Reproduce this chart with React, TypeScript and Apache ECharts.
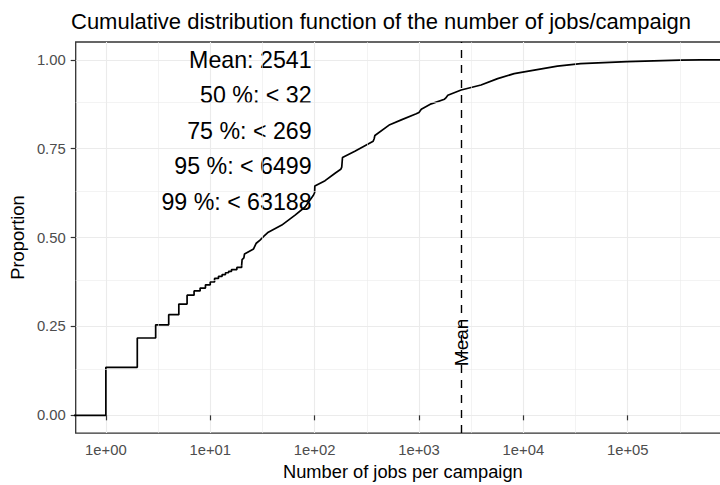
import React, { useEffect, useRef } from "react";
import * as echarts from "echarts";

const TITLE = "Cumulative distribution function of the number of jobs/campaign";
const X_NAME = "Number of jobs per campaign";
const Y_NAME = "Proportion";

const X_MIN = 0.514;
const X_MAX = 955000;
const Y_MIN = -0.05;
const Y_MAX = 1.05;

const X_TICKS = [1, 10, 100, 1000, 10000, 100000];
const X_MINOR = [3.162, 31.62, 316.2, 3162, 31623, 316228];
const Y_TICKS = [0, 0.25, 0.5, 0.75, 1];
const Y_MINOR = [0.125, 0.375, 0.625, 0.875];

// discrete (small counts) part of the ECDF, drawn as steps
const stepJobs = [0.2, 1, 2, 3, 4, 5, 6, 7, 8, 9, 10, 11, 12, 13, 14, 15, 16, 18, 20];
const stepProp = [0, 0.135, 0.2175, 0.2545, 0.283, 0.313, 0.338, 0.35, 0.358, 0.367, 0.375, 0.385, 0.391, 0.396, 0.401, 0.405, 0.41, 0.416, 0.422];

// dense (large counts) part of the ECDF
const contJobs = [20, 20.2, 21, 21.3, 26, 27.6, 30, 32.5, 36, 48.5, 65, 81, 97, 100, 100.5, 126, 157, 178, 182, 185, 243, 364, 372, 378, 525, 677, 942, 1000, 1052, 1310, 1755, 1800, 1890, 2535, 3930, 5670, 8170, 10180, 21200, 35400, 98700, 318000, 500000, 5000000];
const contProp = [0.422, 0.438, 0.443, 0.454, 0.468, 0.484, 0.493, 0.503, 0.515, 0.535, 0.563, 0.586, 0.618, 0.626, 0.645, 0.66, 0.681, 0.692, 0.698, 0.725, 0.743, 0.771, 0.778, 0.787, 0.8175, 0.831, 0.848, 0.852, 0.861, 0.876, 0.889, 0.892, 0.9, 0.915, 0.929, 0.947, 0.961, 0.966, 0.982, 0.989, 0.995, 0.999, 1.0, 1.0];

const MEAN = 2541;
const MEAN_LABEL = "Mean";
const MEAN_LABEL_Y = 0.205;

const STATS_X = 100;
const STATS_LABELS = ["Mean: 2541", "50 %: < 32", "75 %: < 269", "95 %: < 6499", "99 %: < 63188"];
const STATS_Y = [1.0, 0.9, 0.8, 0.7, 0.6];

const FONT = "'Liberation Sans', Arial, Helvetica, sans-serif";

export default function App() {
  const ref = useRef<HTMLDivElement>(null);

  useEffect(() => {
    if (!ref.current) return;
    const chart = echarts.init(ref.current, null, { renderer: "svg" });
    const fmtX = (v: number) => {
      const e = Math.round(Math.log10(v));
      return "1e+" + String(e).padStart(2, "0");
    };
    chart.setOption({
      animation: false,
      backgroundColor: "#ffffff",
      textStyle: { fontFamily: FONT },
      title: {
        text: TITLE,
        left: 71,
        top: 10,
        padding: 0,
        textStyle: { fontFamily: FONT, fontSize: 22, fontWeight: "normal", color: "#000000" },
      },
      grid: {
        left: 73,
        top: 42,
        width: 657,
        height: 395,
        show: true,
        backgroundColor: "#ffffff",
        borderColor: "#333333",
        borderWidth: 1.3,
        containLabel: false,
      },
      xAxis: {
        type: "log",
        logBase: 10,
        min: X_MIN,
        max: X_MAX,
        name: X_NAME,
        nameLocation: "middle",
        nameGap: 21,
        nameTextStyle: { fontFamily: FONT, fontSize: 18.3, color: "#000000" },
        axisLine: { show: false },
        axisTick: { show: true, length: 5, customValues: X_TICKS, lineStyle: { color: "#333333", width: 1.2 } },
        axisLabel: { show: true, customValues: X_TICKS, margin: 9, fontSize: 14.8, color: "#4d4d4d", fontFamily: FONT, formatter: fmtX },
        splitLine: { show: true, lineStyle: { color: "#ebebeb", width: 1.1 } },
        minorTick: { show: false },
        minorSplitLine: { show: false },
      },
      yAxis: {
        type: "value",
        min: Y_MIN,
        max: Y_MAX,
        name: Y_NAME,
        nameLocation: "middle",
        nameGap: 43,
        nameTextStyle: { fontFamily: FONT, fontSize: 18.3, color: "#000000" },
        axisLine: { show: false },
        axisTick: { show: true, length: 5, customValues: Y_TICKS, lineStyle: { color: "#333333", width: 1.2 } },
        axisLabel: {
          show: true,
          customValues: Y_TICKS,
          margin: 10,
          fontSize: 14.8,
          color: "#4d4d4d",
          fontFamily: FONT,
          formatter: (v: number) => v.toFixed(2),
        },
        splitLine: { show: true, lineStyle: { color: "#ebebeb", width: 1.1 } },
      },
      series: [
        {
          name: "minor-grid",
          type: "line",
          data: [],
          z: 1,
          silent: true,
          markLine: {
            silent: true,
            symbol: ["none", "none"],
            label: { show: false },
            lineStyle: { color: "#ebebeb", width: 0.6, type: "solid" },
            data: [
              ...X_MINOR.map((v) => ({ xAxis: v })),
              ...Y_MINOR.map((v) => ({ yAxis: v })),
            ],
          },
        },
        {
          name: "ecdf-steps",
          type: "line",
          step: "end",
          showSymbol: false,
          symbol: "none",
          z: 3,
          lineStyle: { color: "#000000", width: 1.7 },
          data: stepJobs.map((x, i) => [x, stepProp[i]]),
        },
        {
          name: "ecdf",
          type: "line",
          showSymbol: false,
          symbol: "none",
          z: 3,
          lineStyle: { color: "#000000", width: 1.7 },
          data: contJobs.map((x, i) => [x, contProp[i]]),
          markLine: {
            silent: true,
            symbol: ["none", "none"],
            label: { show: false },
            lineStyle: { color: "#000000", width: 1.4, type: [8, 7] },
            data: [{ xAxis: MEAN }],
          },
        },
        {
          name: "mean-label",
          type: "scatter",
          symbolSize: 0,
          z: 4,
          itemStyle: { opacity: 1 },
          data: [[MEAN, MEAN_LABEL_Y]],
          label: {
            show: true,
            position: "inside",
            rotate: 90,
            formatter: MEAN_LABEL,
            fontSize: 19,
            color: "#000000",
            opacity: 1,
            textBorderWidth: 0,
            fontFamily: FONT,
          },
        },
        {
          name: "stats",
          type: "scatter",
          symbolSize: 0,
          z: 4,
          itemStyle: { opacity: 1 },
          data: STATS_Y.map((y) => [STATS_X, y]),
          label: {
            show: true,
            position: "left",
            distance: 0,
            offset: [-3, 0],
            formatter: (p: any) => STATS_LABELS[p.dataIndex],
            fontSize: 23.2,
            color: "#000000",
            opacity: 1,
            textBorderWidth: 0,
            fontFamily: FONT,
          },
        },
      ],
    });
    return () => chart.dispose();
  }, []);

  return (
    <div style={{ position: "fixed", left: 0, top: 0, width: 720, height: 485, overflow: "hidden", background: "#fff" }}>
      <div ref={ref} style={{ width: 760, height: 485 }} />
    </div>
  );
}
